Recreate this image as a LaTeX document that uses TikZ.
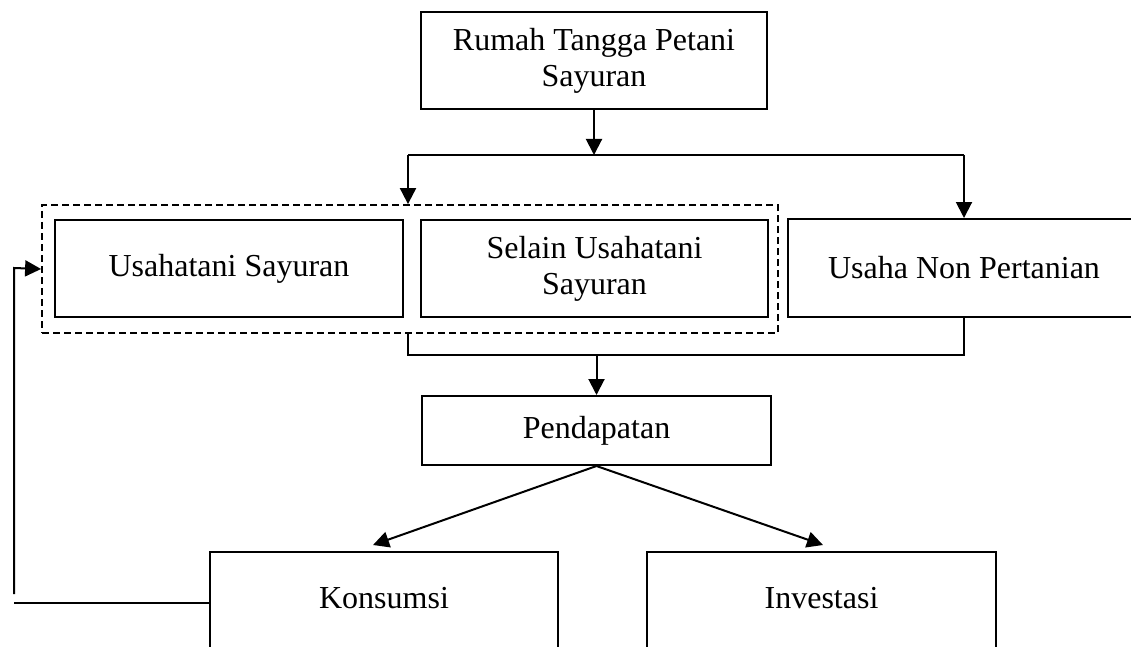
\documentclass[tikz,border=0pt]{standalone}
\usepackage{fontspec}
\setmainfont{Liberation Serif}
\usetikzlibrary{arrows.meta}
\begin{document}
\begin{tikzpicture}[x=1pt,y=-1pt,
  box/.style={draw,line width=2pt,inner sep=0pt,align=center,font=\fontsize{32}{36}\selectfont},
  grpbox/.style={draw,dash pattern=on 7pt off 4pt,line width=1.8pt,inner sep=0pt},
  conn/.style={line width=2pt},
  arr/.style={conn,-{Triangle[length=16pt,width=16pt]}}]
\useasboundingbox (0,0) rectangle (1131,647);
\clip (0,0) rectangle (1131,647);
\fill[white] (0,0) rectangle (1131,647);

\node[box,minimum width=346pt,minimum height=97pt] (rt) at (594,60.5) {Rumah Tangga Petani\\Sayuran};
\node[grpbox,minimum width=736pt,minimum height=128pt] (grp) at (410,269) {};
\node[box,minimum width=348pt,minimum height=97pt] (us) at (229,268.5) {Usahatani Sayuran};
\node[box,minimum width=347pt,minimum height=97pt] (su) at (594.5,268.5) {Selain Usahatani\\Sayuran};
\node[box,minimum width=352pt,minimum height=98pt] (unp) at (964,268) {Usaha Non Pertanian};
\node[box,minimum width=349pt,minimum height=69pt] (pd) at (596.5,430.5) {Pendapatan};
\node[box,minimum width=348.5pt,minimum height=110pt,text height=22pt,text depth=20pt] (ks) at (384,607) {Konsumsi};
\node[box,minimum width=349pt,minimum height=110pt,text height=22pt,text depth=20pt] (iv) at (821.5,607) {Investasi};

\coordinate (split) at (594,155);
\coordinate (jl) at (408,155);
\coordinate (jr) at (964,155);
\coordinate (ml) at (408,355);
\coordinate (mr) at (964,355);
\coordinate (mm) at (596.5,355);
\coordinate (ka) at (373,545);
\coordinate (ia) at (823,545);
\coordinate (fb1) at (14,603);
\coordinate (fb2) at (14,594);
\coordinate (fb3) at (14,268);

\draw[arr] (rt.south) -- (split);
\draw[conn] (jl) -- (jr);
\draw[arr] (jl) -- (jl |- grp.north);
\draw[arr] (jr) -- (unp.north);
\draw[conn] (ml |- grp.south) -- (ml) -- (mr) -- (unp.south);
\draw[arr] (mm) -- (pd.north);
\draw[arr] (pd.south) -- (ka);
\draw[arr] (pd.south) -- (ia);
\draw[conn] (ks.west |- fb1) -- (fb1);
\draw[arr] (fb2) -- (fb3) -- (grp.west);
\end{tikzpicture}
\end{document}
